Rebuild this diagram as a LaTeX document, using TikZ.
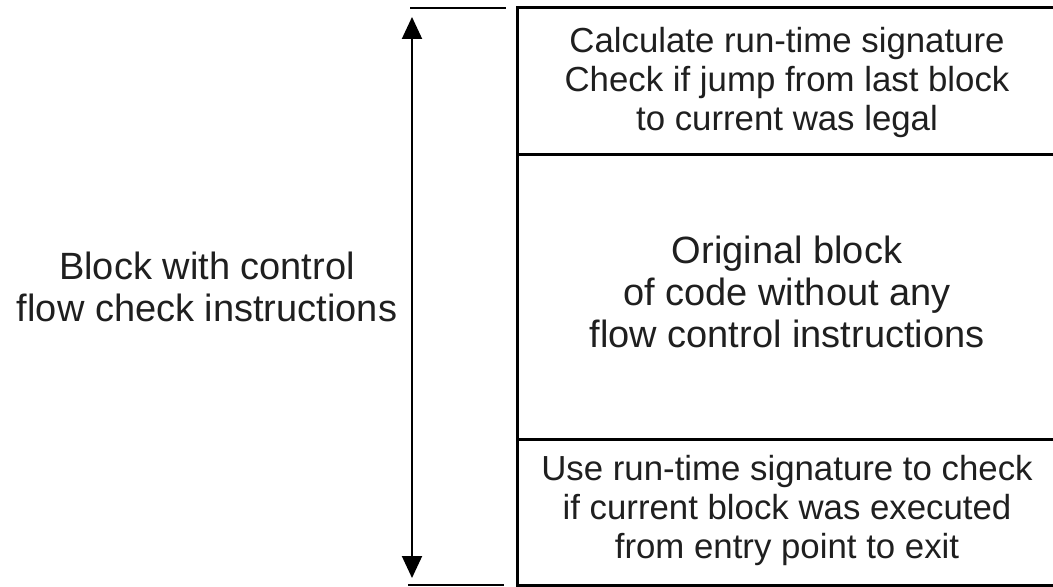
\documentclass[tikz,border=0pt]{standalone}
\usepackage{fontspec}
\setmainfont{Liberation Sans}
\usetikzlibrary{arrows.meta}

\begin{document}
\begin{tikzpicture}[x=0.5pt, y=-0.5pt,
		txt/.style={align=center, font=\fontsize{19}{21}\selectfont, inner sep=0pt, text=black!88},
		small/.style={txt, font=\fontsize{17.4}{19.5}\selectfont}]
		\def\bx{517};   % left edge of the block
		\def\ex{1075};  % right edge (runs past the page)
		\def\ya{8};
		\def\yb{155};
		\def\yc{439};
		\def\yd{585};

		\useasboundingbox (0,0) rectangle (1053,587);

		% the block and its three parts
		\begin{scope}[line width=1.5pt]
			\draw (\ex,\ya) -- (\bx,\ya) -- (\bx,\yd) -- (\ex,\yd);
			\draw (\bx,\yb) -- (\ex,\yb);
			\draw (\bx,\yc) -- (\ex,\yc);
		\end{scope}

		\node[small] (head) at (787,83) {Calculate run-time signature\\Check if jump from last block\\to current was legal};
		\node[txt] (body) at (787,292) {Original block\\of code without any\\flow control instructions};
		\node[small] (tail) at (787,510) {Use run-time signature to check\\if current block was executed\\from entry point to exit};

		% extent of the whole block
		\draw[line width=1pt] (410,\ya) -- (506,\ya);
		\draw[line width=1pt] (408,\yd) -- (504,\yd);

		\coordinate (top) at (412,17);
		\coordinate (bottom) at (412,578);
		\draw[line width=1pt, {Triangle[length=11pt,width=10pt]}-{Triangle[length=11pt,width=10pt]}] (top) -- (bottom);

		\node[txt] (label) at (207,287) {Block with control\\flow check instructions};
	\end{tikzpicture}
\end{document}
